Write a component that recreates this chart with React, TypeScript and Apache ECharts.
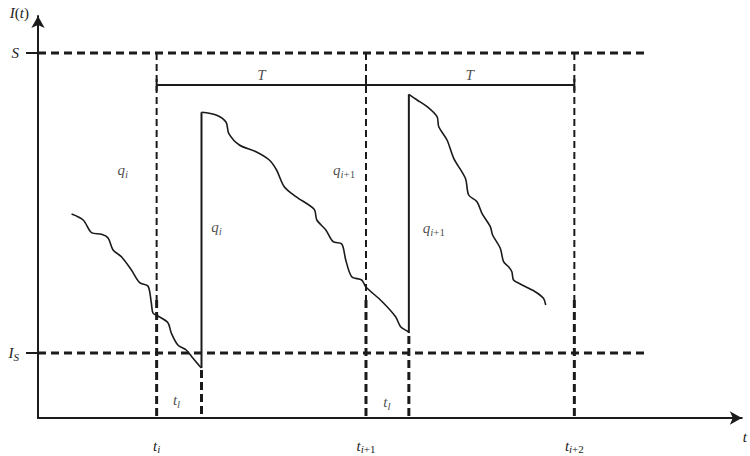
import React, { useEffect, useRef } from "react";
import * as echarts from "echarts";

const INK = "#1b1b1b";
const FONT = "'Liberation Serif', 'DejaVu Serif', serif";

// Reference levels and times (schematic units)
const levelS = 365;
const levelIS = 65;
const cycleStarts = [119, 329, 538];
const arrivals = [164, 372];
const arrivalDashTops = [48, 82];
const bracketLevel = 333;
const dashEnd = 609;
const thinThickSplit = 118;

// Inventory trajectories
const curve1: number[][] = [
  [33.7, 204], [45.3, 198], [53.7, 185.3], [63.7, 183.7], [70.3, 180], [75.3, 168],
  [83.7, 161.3], [93.7, 148], [102, 135.3], [110.3, 132], [113.7, 115], [115.3, 105],
  [120.3, 102], [130.3, 95.3], [133.7, 85], [140.3, 73], [148.7, 68], [155.3, 60],
  [162.7, 51.3], [164, 50],
];
const curve2: number[][] = [
  [164, 305.7], [178.7, 303], [188.7, 295.7], [191.3, 284.7], [202, 273], [218.7, 266.3],
  [232, 258], [239.3, 248], [247, 231.3], [258.7, 221.3], [277, 208.7], [279.7, 198],
  [288.7, 188], [296, 176.3], [304.7, 174], [308.7, 158], [314.7, 141.3], [324.7, 138],
  [328.7, 131.3], [345.3, 116.3], [358.7, 101.3], [363.7, 91.3], [371.3, 86.3], [372, 85],
];
const curve3: number[][] = [
  [372, 323.7], [380.3, 318], [390.3, 311.3], [400.3, 301.3], [402, 291.3], [410.3, 278],
  [417, 259.7], [428.7, 239.7], [432, 223], [440.3, 216.3], [445.3, 204.7], [453.7, 191.3],
  [456, 183], [463.7, 169.7], [467, 156.3], [472, 151.3], [475.3, 146.3], [477, 138],
  [483.7, 134], [498.7, 126.3], [507, 119.7], [509.3, 113],
];
// replenishment jumps: [time, from, to]
const jumps: number[][] = [
  [164, 50, 305.7],
  [372, 85, 323.7],
];

const textLabels = [
  { name: "{m|q}{s|i}", value: [85, 248] },
  { name: "{m|q}{s|i}", value: [179, 191] },
  { name: "{m|q}{s|i}{p|+1}", value: [307, 248] },
  { name: "{m|q}{s|i}{p|+1}", value: [397, 190] },
  { name: "{m|T}", value: [224, 343] },
  { name: "{m|T}", value: [433, 343] },
  { name: "{m|t}{s|l}", value: [139, 18] },
  { name: "{m|t}{s|l}", value: [350, 16] },
];
const yTickValues = [levelIS, levelS];
const yTickTexts = ["{m|I}{s|S}", "{m|S}"];
const xTickTexts = ["{m|t}{s|i}", "{m|t}{s|i}{p|+1}", "{m|t}{s|i}{p|+2}"];

const rich = {
  m: { fontFamily: FONT, fontStyle: "italic", fontSize: 15, lineHeight: 17, color: INK },
  s: { fontFamily: FONT, fontStyle: "italic", fontSize: 11, lineHeight: 11, padding: [7, 0, 0, 0], color: INK },
  p: { fontFamily: FONT, fontSize: 11, lineHeight: 11, padding: [7, 0, 0, 0], color: INK },
};

function seg(data: number[][], width: number, type: any, smooth: number | boolean = false) {
  return {
    type: "line",
    data,
    smooth,
    symbol: "none",
    silent: true,
    lineStyle: { color: INK, width, type },
  };
}

export default function App() {
  const ref = useRef<HTMLDivElement>(null);
  useEffect(() => {
    if (!ref.current) return;
    const chart = echarts.init(ref.current, null, { renderer: "svg" });
    const series: any[] = [];
    series.push(seg(curve1, 1.6, "solid", 0.3));
    series.push(seg(curve2, 1.6, "solid", 0.3));
    series.push(seg(curve3, 1.6, "solid", 0.3));
    jumps.forEach(([t, a, b]) => series.push(seg([[t, a], [t, b]], 2, "solid")));
    [levelS, levelIS].forEach((l) => series.push(seg([[0, l], [dashEnd, l]], 3, [8, 5])));
    cycleStarts.forEach((t) => {
      series.push(seg([[t, levelS], [t, thinThickSplit]], 2, [7, 4]));
      series.push(seg([[t, thinThickSplit], [t, 0]], 3, [8, 4]));
    });
    arrivals.forEach((t, i) => series.push(seg([[t, arrivalDashTops[i]], [t, 0]], 3, [8, 4])));
    series.push(seg([[cycleStarts[0], bracketLevel], [cycleStarts[2], bracketLevel]], 2, "solid"));
    cycleStarts.forEach((t) =>
      series.push(seg([[t, bracketLevel - 6], [t, bracketLevel + 6]], 2, "solid"))
    );
    series.push({
      type: "scatter",
      data: textLabels,
      symbolSize: 1,
      silent: true,
      itemStyle: { color: "transparent" },
      label: {
        show: true,
        position: "inside",
        color: INK,
        textBorderWidth: 0,
        textBorderColor: "transparent",
        formatter: (p: any) => p.name,
        rich,
      },
    });

    chart.setOption({
      animation: false,
      backgroundColor: "#ffffff",
      grid: { left: 38, right: 6, top: 16, bottom: 38 },
      xAxis: {
        type: "value",
        min: 0,
        max: 706,
        splitLine: { show: false },
        axisLine: {
          lineStyle: { color: INK, width: 2 },
          symbol: ["none", "arrow"],
          symbolSize: [10, 12],
        },
        axisTick: { show: false },
        axisLabel: {
          customValues: cycleStarts,
          margin: 19,
          color: INK,
          formatter: (v: number) => xTickTexts[cycleStarts.indexOf(v)] ?? "",
          rich,
        },
        name: "t",
        nameLocation: "end",
        nameGap: 1,
        nameTextStyle: {
          fontFamily: FONT,
          fontStyle: "italic",
          fontSize: 15,
          color: INK,
          align: "left",
          verticalAlign: "top",
          padding: [11, 0, 0, 0],
        },
      },
      yAxis: {
        type: "value",
        min: 0,
        max: 402,
        splitLine: { show: false },
        axisLine: {
          lineStyle: { color: INK, width: 2 },
          symbol: ["none", "arrow"],
          symbolSize: [10, 12],
        },
        axisTick: {
          show: true,
          customValues: yTickValues,
          length: 12,
          lineStyle: { color: INK, width: 2 },
        },
        axisLabel: {
          customValues: yTickValues,
          margin: 19,
          color: INK,
          formatter: (v: number) => yTickTexts[yTickValues.indexOf(v)] ?? "",
          rich,
        },
        name: "{m|I}{u|(}{m|t}{u|)}",
        nameLocation: "end",
        nameGap: 3,
        nameTextStyle: {
          fontFamily: FONT,
          fontSize: 15,
          color: INK,
          align: "right",
          verticalAlign: "middle",
          padding: [0, 9, 0, 0],
          rich: {
            ...rich,
            u: { fontFamily: FONT, fontSize: 15, lineHeight: 17, color: INK },
          },
        },
      },
      series,
    });
    return () => chart.dispose();
  }, []);
  return <div ref={ref} style={{ width: 750, height: 456, position: "absolute", left: 0, top: 0 }} />;
}
